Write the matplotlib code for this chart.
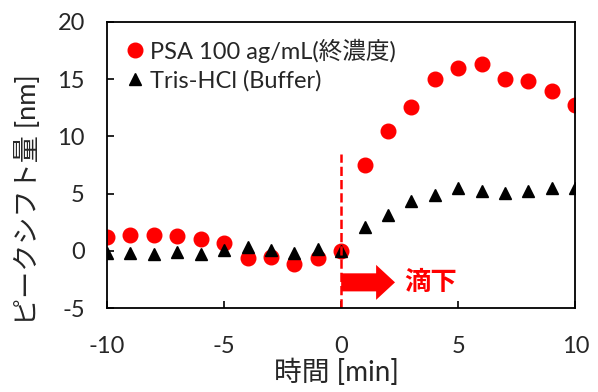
import numpy as np
import matplotlib.pyplot as plt

plt.rcParams['font.family'] = ['Lato', 'Noto Sans CJK JP', 'DejaVu Sans']
plt.rcParams['axes.unicode_minus'] = False

# 時間 [min]
t = np.arange(-10, 11)
psa = [1.25, 1.4, 1.4, 1.3, 1.05, 0.73, -0.58, -0.5, -1.14, -0.58, 0.03,
       7.46, 10.5, 12.6, 15.03, 15.97, 16.3, 15.0, 14.8, 14.0, 12.76]
tris = [-0.15, -0.15, -0.25, -0.1, -0.3, 0.05, 0.3, 0.08, -0.15, 0.15, 0.0,
        2.1, 3.15, 4.37, 4.9, 5.48, 5.2, 5.04, 5.27, 5.53, 5.53]

txt = '#262626'

fig = plt.figure(figsize=(5.98, 3.92), dpi=100)
ax = fig.add_axes([0.179, 0.214, 0.783, 0.73])

ax.plot(t, psa, 'o', color='#ff0000', markersize=10.5, label='PSA 100 ag/mL(終濃度)')
ax.plot(t, tris, '^', color='black', markersize=8.5, label='Tris-HCl (Buffer)')

# 滴下のタイミング
ax.plot([0, 0], [-5, 8.5], '--', color='#ff0000', linewidth=1.8)
ax.annotate('', xy=(2.3, -2.75), xytext=(0, -2.75),
            arrowprops=dict(arrowstyle='simple,head_length=0.68,head_width=1.26,tail_width=0.65',
                            color='#ff0000', lw=0, mutation_scale=20,
                            shrinkA=0, shrinkB=0))
ax.text(2.7, -2.75, '滴下', color='#ff0000', fontsize=19, va='center', ha='left',
        fontweight='bold')

ax.set_xlim(-10, 10)
ax.set_ylim(-5, 20)
ax.set_xticks([-10, -5, 0, 5, 10])
ax.set_yticks([-5, 0, 5, 10, 15, 20])
ax.tick_params(direction='in', labelsize=17, length=5, width=1.2, colors='black',
               labelcolor=txt)
ax.tick_params(axis='x', pad=20)
ax.tick_params(axis='y', pad=16)
for s in ax.spines.values():
    s.set_linewidth(1.3)

ax.set_xlabel('時間 [min]', fontsize=20, color=txt)
ax.set_ylabel('ピークシフト量 [nm]', fontsize=19.5, color=txt)
ax.xaxis.set_label_coords(0.489, -0.175)
ax.yaxis.set_label_coords(-0.14, 0.38)

ax.legend(loc='upper left', frameon=False, fontsize=17, handletextpad=0.1,
          borderaxespad=0.3, labelspacing=0.3, handlelength=1.0,
          bbox_to_anchor=(0.0, 1.0), labelcolor=txt)

fig.savefig('out.png', dpi=100)
